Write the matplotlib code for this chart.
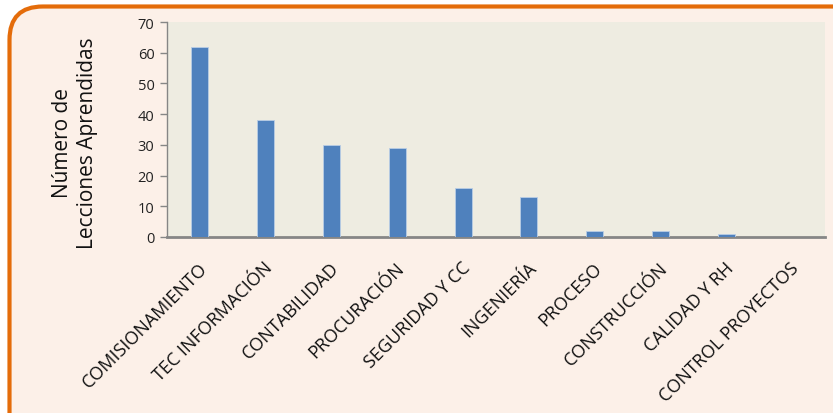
import matplotlib
matplotlib.use("Agg")
import matplotlib.pyplot as plt
import matplotlib.transforms as mtransforms
from matplotlib.patches import FancyBboxPatch

categories = ["COMISIONAMIENTO", "TEC INFORMACIÓN", "CONTABILIDAD", "PROCURACIÓN",
              "SEGURIDAD Y CC", "INGENIERÍA", "PROCESO", "CONSTRUCCIÓN",
              "CALIDAD Y RH", "CONTROL PROYECTOS"]
values = [62, 38, 30, 29, 16, 13, 2, 2, 1, 0]
yticks = [0, 10, 20, 30, 40, 50, 60, 70]

plt.rcParams['font.family'] = ['Open Sans', 'DejaVu Sans']

W, H = 833, 414
fig = plt.figure(figsize=(W / 100, H / 100), dpi=100, facecolor='white')

box = FancyBboxPatch((9.5 / W, -40 / H), (W + 40) / W, (H + 40 - 7.5) / H,
                     boxstyle="round,pad=0,rounding_size=0.04",
                     transform=fig.transFigure, facecolor='#FCF0E8',
                     edgecolor='#E46C0A', linewidth=3, zorder=-10,
                     mutation_aspect=W / H)
fig.patches.append(box)

ax = fig.add_axes([167 / W, 1 - 238 / H, (825 - 167) / W, (238 - 23) / H])
ax.set_zorder(2)
ax.set_facecolor('#EEECE1')
x = list(range(len(categories)))
ax.bar(x, values, width=0.26, color='#4F81BD', edgecolor='#B9CDE5',
       linewidth=0.6, zorder=3)
ax.set_xlim(-0.5, len(categories) - 0.5)
ax.set_ylim(0, 70)
ax.set_yticks(yticks)
ax.set_yticklabels([str(t) for t in yticks], fontsize=10.5, color='#222222')
ax.tick_params(axis='y', direction='out', length=5, width=1, color='#868686', pad=4)
ax.tick_params(axis='x', length=0, pad=6)
ax.set_xticks(x)
ax.set_xticklabels(categories, rotation=45, ha='right', rotation_mode='anchor',
                   fontsize=13, color='#111111')
for t in ax.get_xticklabels():
    t.set_transform(t.get_transform() + mtransforms.ScaledTranslation(-2 / 100, -13 / 100, fig.dpi_scale_trans))
for s in ['top', 'right']:
    ax.spines[s].set_visible(False)
ax.spines['left'].set_color('#868686')
ax.spines['left'].set_linewidth(1)
ax.spines['bottom'].set_color('#868686')
ax.spines['bottom'].set_linewidth(2)

t = fig.text(75 / W, 1 - 143 / H, "Número de\nLecciones Aprendidas", rotation=90,
             ha='center', va='center', fontsize=15, color='#111111', linespacing=1.3)
t.set_zorder(5)

fig.savefig("out.png", dpi=100, facecolor=fig.get_facecolor())
